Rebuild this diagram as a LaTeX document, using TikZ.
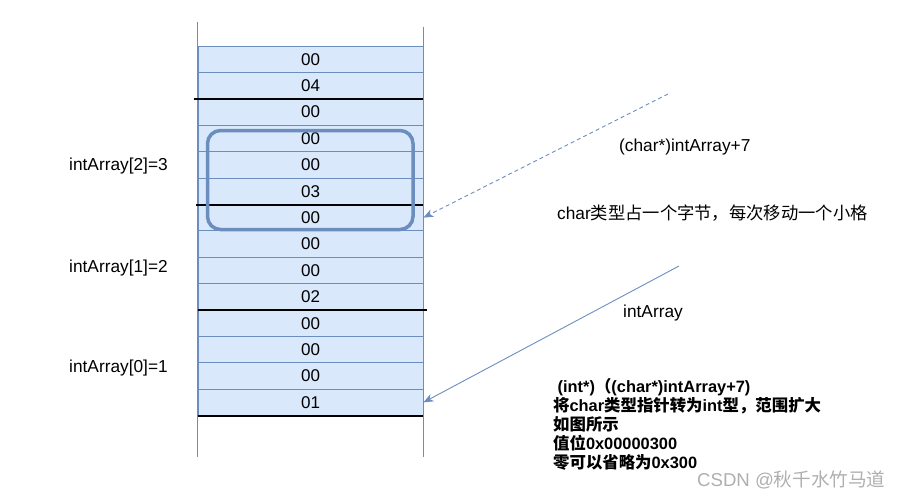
\documentclass[tikz,border=0pt]{standalone}
\usepackage{fontspec}
\setmainfont{Liberation Sans}
\newfontfamily\cjk{Noto Sans CJK SC}
\usetikzlibrary{arrows.meta}
\definecolor{cellfill}{HTML}{DAE8FC}
\definecolor{cellline}{HTML}{6C8EBF}
\definecolor{wmgray}{RGB}{175,175,175}

\begin{document}
\begin{tikzpicture}[x=1pt, y=-1pt,
  cell/.style={rectangle, draw=cellline, fill=cellfill, line width=0.8pt, minimum width=225pt, minimum height=26.4pt, inner sep=0pt, font=\fontsize{17}{20}\selectfont},
  lbl/.style={anchor=base west, inner sep=0pt, font=\fontsize{17.3}{20}\selectfont},
  note/.style={anchor=base west, inner sep=0pt, font=\fontsize{16.4}{19}\selectfont\bfseries},
  ptr/.style={color=cellline, line width=0.9pt, -{Stealth[length=10pt, width=8pt, inset=3pt]}},
  sep/.style={black, line width=2pt},
  col/.style={draw=cellline, line width=1pt},
  sel/.style={rectangle, draw=cellline, line width=3.5pt, rounded corners=13pt, minimum width=205.5pt, minimum height=99pt, inner sep=0pt}]
  \useasboundingbox (0,0) rectangle (903,498);

  % memory cells, high address on top
  \node[cell] (c1) at (310.5, 59.2) {00};
  \node[cell] (c2) at (310.5, 85.6) {04};
  \node[cell] (c3) at (310.5, 112.0) {00};
  \node[cell] (c4) at (310.5, 138.4) {00};
  \node[cell] (c5) at (310.5, 164.8) {00};
  \node[cell] (c6) at (310.5, 191.2) {03};
  \node[cell] (c7) at (310.5, 217.6) {00};
  \node[cell] (c8) at (310.5, 244.0) {00};
  \node[cell] (c9) at (310.5, 270.4) {00};
  \node[cell] (c10) at (310.5, 296.8) {02};
  \node[cell] (c11) at (310.5, 323.2) {00};
  \node[cell] (c12) at (310.5, 349.6) {00};
  \node[cell] (c13) at (310.5, 376.0) {00};
  \node[cell] (c14) at (310.5, 402.4) {01};

  \draw[col] ([yshift=24pt]c1.north west) -- ([yshift=-41.4pt]c14.south west);
  \draw[col] ([yshift=19pt]c1.north east) -- ([yshift=-41.4pt]c14.south east);

  % int boundaries
  \draw[sep] ([xshift=-4pt]c2.south west) -- (c2.south east);
  \draw[sep] ([xshift=-2pt]c6.south west) -- (c6.south east);
  \draw[sep] (c10.south west) -- ([xshift=4pt]c10.south east);
  \draw[sep] (c14.south west) -- (c14.south east);

  \node[sel] (win) at (310.25, 180) {};

  \node[lbl] (v2) at (69, 170) {intArray[2]=3};
  \node[lbl] (v1) at (69, 272) {intArray[1]=2};
  \node[lbl] (v0) at (69, 372) {intArray[0]=1};

  \node[lbl] (cast) at (619, 151) {(char*)intArray+7};
  \node[lbl] (move) at (557, 219) {char{\cjk 类型占一个字节，每次移动一个小格}};
  \node[lbl] (base) at (623, 317) {intArray};

  \node[note] (n1) at (553, 392) {\hspace*{4.5pt}(int*){\cjk （}(char*)intArray+7)};
  \node[note] (n2) at (553, 411) {{\cjk 将}char{\cjk 类型指针转为}int{\cjk 型，范围扩大}};
  \node[note] (n3) at (553, 430) {{\cjk 如图所示}};
  \node[note] (n4) at (553, 449) {{\cjk 值位}0x00000300};
  \node[note] (n5) at (553, 468) {{\cjk 零可以省略为}0x300};

  \node[anchor=base west, inner sep=0pt, text=wmgray, font=\fontsize{18.6}{22}\selectfont] (wm) at (697, 486) {CSDN @{\cjk 秋千水竹马道}};

  \coordinate (p1) at (668, 94);
  \coordinate (p2) at (679, 266);
  \draw[ptr, dash pattern=on 4pt off 3pt] (p1) -- (c7.east);
  \draw[ptr] (p2) -- (c14.east);
\end{tikzpicture}
\end{document}
